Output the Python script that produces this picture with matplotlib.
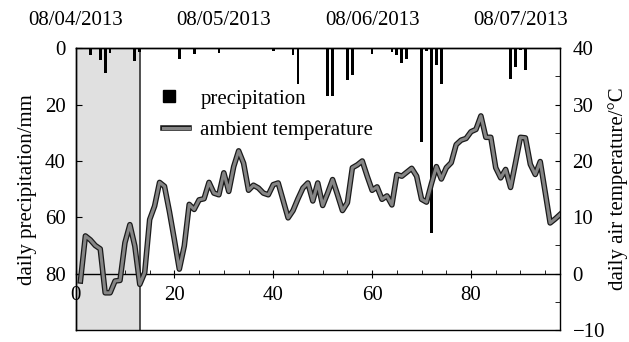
import matplotlib
matplotlib.use('Agg')
import matplotlib.pyplot as plt
import matplotlib.patheffects as pe
from matplotlib.lines import Line2D
from matplotlib.legend_handler import HandlerLine2D
from matplotlib.ticker import MultipleLocator

plt.rcParams['font.family'] = ['Liberation Serif', 'DejaVu Serif']
plt.rcParams['font.size'] = 15

# daily air temperature, day 1..98
days = list(range(1, 99))
temperature = [
    -1.3, 6.7, 6.0, 5.0, 4.4, -3.4, -3.4, -1.3, -1.2, 5.5,
    8.7, 4.9, -1.9, 0.2, 9.6, 12.0, 16.2, 15.5, 11.0, 6.0,
    0.8, 4.9, 12.3, 11.4, 13.1, 13.3, 16.2, 14.3, 14.0, 17.9,
    14.6, 19.0, 21.8, 19.6, 14.8, 15.7, 15.2, 14.3, 14.0, 15.8,
    16.1, 13.0, 9.9, 11.2, 13.3, 15.2, 16.1, 12.9, 16.1, 12.1,
    14.3, 16.7, 14.0, 11.2, 12.6, 18.8, 19.3, 20.0, 17.3, 14.8,
    15.4, 13.2, 13.8, 12.2, 17.6, 17.3, 18.0, 18.7, 17.3, 13.2,
    12.7, 16.0, 19.0, 16.8, 18.8, 19.7, 22.9, 23.7, 24.0, 25.2,
    25.6, 28.0, 24.2, 24.2, 18.8, 17.0, 18.5, 15.3, 19.7, 24.2,
    24.1, 19.4, 17.6, 19.9, 14.5, 9.0, 9.7, 10.5,
]

# daily precipitation (only rainy days)
rain_days = [3, 5, 6, 7, 12, 13, 21, 24, 29, 40, 44, 45, 51, 52, 55, 56,
             60, 64, 65, 66, 67, 70, 71, 72, 73, 74, 88, 89, 90, 91]
rain_mm = [2.4, 4.1, 8.6, 1.8, 4.4, 1.3, 3.9, 2.2, 1.8, 1.1, 2.4, 12.7,
           16.9, 16.9, 11.2, 9.4, 2.0, 1.2, 2.4, 5.1, 3.9, 33.4, 1.0, 65.5,
           5.9, 12.8, 11.0, 6.7, 0.6, 7.7]

date_pos = [0, 30, 60, 90]
date_labels = ['08/04/2013', '08/05/2013', '08/06/2013', '08/07/2013']


class LeftMarker(HandlerLine2D):
    # single marker is drawn at the middle of xdata -> keep it at the left end
    def get_xdata(self, legend, xdescent, ydescent, width, height, fontsize):
        xd = [-xdescent, -xdescent + 9]
        return xd, xd


W, H = 629, 342
fig = plt.figure(figsize=(W / 100, H / 100), dpi=100)
ax = fig.add_axes([75.5 / W, 12 / H, 484.5 / W, 281.7 / H])

ax.set_xlim(0, 98)
ax.set_ylim(100, 0)
ax.axvspan(0, 13, color='#e0e0e0', lw=0, zorder=0)
ax.axvline(13, color='#333333', lw=1.2, zorder=1)
ax.bar(rain_days, rain_mm, width=0.55, color='black', zorder=3)

# x axis sits on the 0 degC line (= 80 mm)
ax.spines['bottom'].set_position(('data', 80))
ax.spines['right'].set_visible(False)
ax.set_xticks([0, 20, 40, 60, 80])
ax.xaxis.set_minor_locator(MultipleLocator(5))
ax.tick_params(axis='x', which='major', direction='inout', length=6, pad=6)
ax.tick_params(axis='x', which='minor', direction='in', length=3)
ax.set_yticks([0, 20, 40, 60, 80])
ax.tick_params(axis='y', direction='in', length=4, pad=7)
ax.set_ylabel('daily precipitation/mm', labelpad=6)

ax2 = ax.twinx()
ax2.set_ylim(-10, 40)
ax2.set_yticks(range(-10, 41, 10))
ax2.yaxis.set_minor_locator(MultipleLocator(5))
ax2.tick_params(axis='y', which='both', direction='in', length=3.5, pad=9)
ax2.set_ylabel('daily air temperature/°C', labelpad=2)

line_fx = [pe.Stroke(linewidth=4.0, foreground='#1a1a1a'), pe.Normal()]
ax2.plot(days, temperature, color='#858585', lw=2.2, path_effects=line_fx,
         zorder=4)

for s in list(ax.spines.values()) + list(ax2.spines.values()):
    s.set_linewidth(1.0)

for x, lab in zip(date_pos, date_labels):
    ax.text(x, 1.065, lab, transform=ax.get_xaxis_transform(),
            ha='center', va='bottom')

rain_handle = Line2D([], [], marker='s', color='black', ls='none', markersize=8)
temp_handle = Line2D([], [], color='#858585', lw=2.2, path_effects=line_fx)
ax2.legend([rain_handle, temp_handle], ['precipitation', 'ambient temperature'],
           loc='upper left', bbox_to_anchor=((163 - 75.5) / 484.5, 0.855),
           frameon=False, borderpad=0, borderaxespad=0,
           handlelength=1.25, handletextpad=0.55, labelspacing=0.58,
           handler_map={rain_handle: LeftMarker()})

fig.savefig('out.png', dpi=100)
